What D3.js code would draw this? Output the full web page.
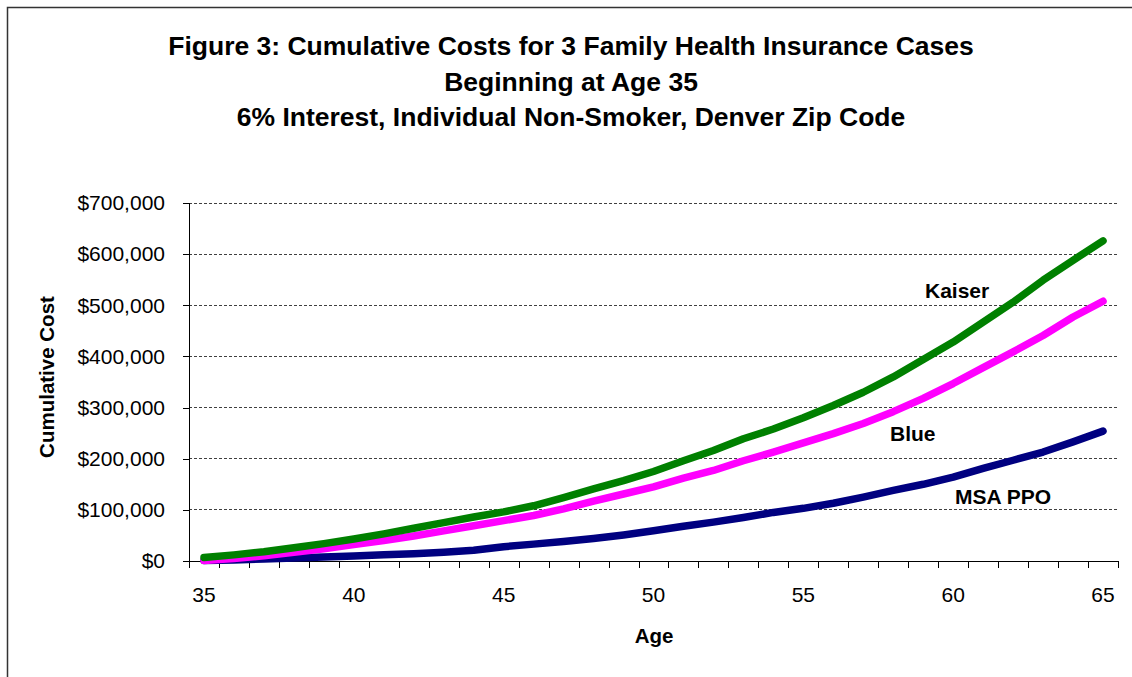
<!DOCTYPE html>
<html lang="en">
<head>
    <meta charset="UTF-8">
    <script src="https://d3js.org/d3.v7.min.js"></script>
</head>
<style>
    body {
        margin: 0;
        background-color: #ffffff;
    }
    #viz {
        display: block;
        font-family: 'Liberation Sans', Arial, sans-serif;
    }
    .axis path,
    .axis line {
        stroke: #000000;
        shape-rendering: crispEdges;
    }
    .axis text {
        fill: #000000;
        font-family: 'Liberation Sans', Arial, sans-serif;
        font-size: 21px;
    }
    .grid line {
        stroke: #404040;
        stroke-dasharray: 3, 2;
        shape-rendering: crispEdges;
    }
    .title, .axis-title, .series-label {
        font-family: 'Liberation Sans', Arial, sans-serif;
        font-weight: bold;
        fill: #000000;
    }
</style>
<body>
<svg id="viz" width="1132" height="677"></svg>
<script>

    // ages on the category axis
    var ages = [35, 36, 37, 38, 39, 40, 41, 42, 43, 44, 45, 46, 47, 48, 49, 50,
                51, 52, 53, 54, 55, 56, 57, 58, 59, 60, 61, 62, 63, 64, 65];
    var ageLabels = [35, 40, 45, 50, 55, 60, 65];

    // cumulative cost, dollars
    var kaiser = [7000, 12000, 18000, 26000, 34000, 43000, 53000, 64000, 75000, 86000,
                  96000, 108000, 124000, 141000, 157000, 175000, 196000, 216000, 239000, 258000,
                  280000, 304000, 330000, 360000, 394000, 428000, 467000, 506000, 549000, 588000, 626000];
    var blue = [1000, 5000, 10000, 17000, 24000, 32000, 40000, 49000, 59000, 69000,
                79000, 89000, 102000, 117000, 131000, 145000, 162000, 177000, 196000, 213000,
                231000, 249000, 269000, 292000, 318000, 347000, 378000, 409000, 441000, 477000, 508000];
    var msaPpo = [1000, 2000, 4000, 6000, 8000, 10000, 12000, 14000, 17000, 21000,
                  28000, 33000, 38000, 44000, 51000, 59000, 68000, 76000, 85000, 95000,
                  103000, 113000, 125000, 138000, 150000, 164000, 181000, 197000, 213000, 233000, 254000];

    var costTicks = [0, 100000, 200000, 300000, 400000, 500000, 600000, 700000];

    var titleLines = ["Figure 3: Cumulative Costs for 3 Family Health Insurance Cases",
                      "Beginning at Age 35",
                      "6% Interest, Individual Non-Smoker, Denver Zip Code"];

    var series = [
        {name: "Kaiser",  values: kaiser, color: "#008000", lx: 925, ly: 298},
        {name: "Blue",    values: blue,   color: "#ff00ff", lx: 890, ly: 441},
        {name: "MSA PPO", values: msaPpo, color: "#000080", lx: 955, ly: 504}
    ];

    var svg = d3.select("#viz");
    var plot = {left: 189, right: 1118, top: 203, bottom: 561};

    // outer frame of the chart object (runs off the right and bottom)
    svg.append("rect")
        .attr("x", 7.5).attr("y", 7.5)
        .attr("width", 1200).attr("height", 720)
        .attr("fill", "none")
        .attr("stroke", "#333333")
        .attr("stroke-width", 1.5);

    // title
    svg.append("g").selectAll("text")
        .data(titleLines)
        .enter().append("text")
        .attr("class", "title")
        .attr("x", 571)
        .attr("y", function(d, i) { return 55 + i * 35.5; })
        .attr("text-anchor", "middle")
        .attr("font-size", 26.5)
        .text(function(d) { return d; });

    // x is a category axis: each age sits in the middle of its slot
    var x = d3.scaleLinear()
        .domain([ages[0] - 0.5, ages[ages.length - 1] + 0.5])
        .range([plot.left, plot.right]);
    var y = d3.scaleLinear()
        .domain([0, 700000])
        .range([plot.bottom, plot.top]);

    // gridlines
    svg.append("g")
        .attr("class", "grid")
        .selectAll("line")
        .data(costTicks.slice(1))
        .enter().append("line")
        .attr("x1", plot.left).attr("x2", plot.right)
        .attr("y1", function(d) { return y(d); })
        .attr("y2", function(d) { return y(d); });

    // y axis
    var yAxis = svg.append("g")
        .attr("class", "axis")
        .attr("transform", "translate(" + plot.left + ",0)")
        .call(d3.axisLeft(y)
            .tickValues(costTicks)
            .tickSize(6)
            .tickPadding(18)
            .tickFormat(function(d) { return "$" + d3.format(",")(d); }));
    yAxis.select(".domain").attr("stroke-width", 1.5);

    // x axis: tick marks at slot boundaries, labels every 5 years
    var boundaries = ages.map(function(a) { return a - 0.5; }).concat([ages[ages.length - 1] + 0.5]);
    var xAxis = svg.append("g")
        .attr("class", "axis")
        .attr("transform", "translate(0," + plot.bottom + ")")
        .call(d3.axisBottom(x)
            .tickValues(boundaries)
            .tickSizeOuter(0)
            .tickSize(7)
            .tickFormat(""));
    xAxis.select(".domain").attr("stroke-width", 1.5);

    svg.append("g")
        .attr("class", "axis")
        .selectAll("text")
        .data(ageLabels)
        .enter().append("text")
        .attr("x", function(d) { return x(d); })
        .attr("y", 602)
        .attr("text-anchor", "middle")
        .text(function(d) { return d; });

    // axis titles
    svg.append("text")
        .attr("class", "axis-title")
        .attr("font-size", 20.5)
        .attr("text-anchor", "middle")
        .attr("transform", "translate(54,377) rotate(-90)")
        .text("Cumulative Cost");

    svg.append("text")
        .attr("class", "axis-title")
        .attr("font-size", 20.5)
        .attr("text-anchor", "middle")
        .attr("x", 654)
        .attr("y", 643)
        .text("Age");

    // series lines
    var line = d3.line()
        .x(function(d, i) { return x(ages[i]); })
        .y(function(d) { return y(d); });

    svg.append("g").selectAll("path")
        .data(series.slice().reverse())
        .enter().append("path")
        .attr("d", function(d) { return line(d.values); })
        .attr("fill", "none")
        .attr("stroke", function(d) { return d.color; })
        .attr("stroke-width", 7.5)
        .attr("stroke-linecap", "round")
        .attr("stroke-linejoin", "round");

    svg.append("g").selectAll("text")
        .data(series)
        .enter().append("text")
        .attr("class", "series-label")
        .attr("font-size", 21)
        .attr("x", function(d) { return d.lx; })
        .attr("y", function(d) { return d.ly; })
        .text(function(d) { return d.name; });

</script>
</body>
</html>
